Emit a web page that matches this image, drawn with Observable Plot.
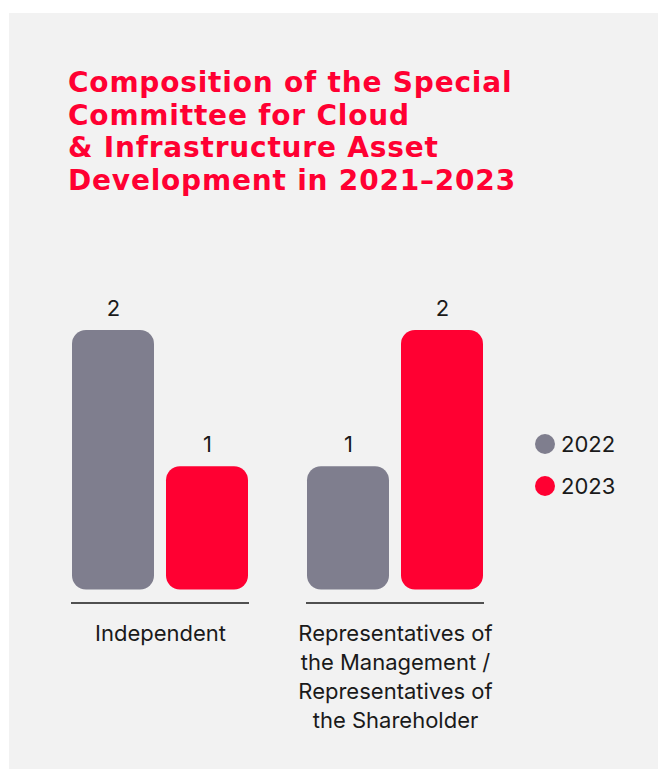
<!DOCTYPE html>
<html>
<head>
<meta charset="utf-8">
<script src="https://cdn.jsdelivr.net/npm/d3@7"></script>
<script src="https://cdn.jsdelivr.net/npm/@observablehq/plot@0.6"></script>
<style>
  html, body { margin: 0; padding: 0; background: #ffffff; }
  body { width: 658px; height: 769px; position: relative; overflow: hidden; font-family: Inter, "Noto Sans", sans-serif; }
  #panel { position: absolute; left: 9px; top: 13px; width: 649px; height: 756px; background: #f2f2f2; }
  #title { position: absolute; left: 68px; top: 67px; margin: 0; color: #ff0032; font-family: "DejaVu Sans", sans-serif; font-weight: bold; font-size: 28px; line-height: 32.5px; letter-spacing: 0.8px; }
  #chart { position: absolute; left: 0; top: 0; }
  .legend { position: absolute; left: 535px; display: flex; align-items: center; font-size: 22px; color: #1a1a1a; }
  .legend .dot { width: 20px; height: 20px; border-radius: 50%; margin-right: 6px; }
</style>
</head>
<body>
<div id="panel"></div>
<h1 id="title">Composition of the Special<br>Committee for Cloud<br>&amp; Infrastructure Asset<br>Development in 2021–2023</h1>
<div id="chart"></div>
<div id="legend"></div>
<script>
const categories = ["Independent", "Representatives of the Management / Representatives of the Shareholder"];
const categoryLabels = ["Independent", "Representatives of\nthe Management /\nRepresentatives of\nthe Shareholder"];
const years = ["2022", "2023"];
const values2022 = [2, 1];
const values2023 = [1, 2];
const colors = ["#7f7e8e", "#ff0032"];

const data = [];
categories.forEach((c, i) => {
  data.push({category: c, year: years[0], value: values2022[i]});
  data.push({category: c, year: years[1], value: values2023[i]});
});
const labelData = categories.map((c, i) => ({category: c, label: categoryLabels[i]}));

const chart = Plot.plot({
  width: 658,
  height: 769,
  marginLeft: 71,
  marginRight: 173.5,
  marginTop: 330,
  marginBottom: 166.5,
  style: {background: "transparent", fontFamily: "Inter, 'Noto Sans', sans-serif", fontSize: "22px", color: "#1a1a1a"},
  fx: {domain: categories, paddingInner: 0.244, paddingOuter: 0, axis: null},
  x: {domain: years, paddingInner: 0.126, paddingOuter: 0, axis: null},
  y: {domain: [0, 2], axis: null},
  color: {domain: years, range: colors},
  marks: [
    Plot.barY(data, {fx: "category", x: "year", y: "value", fill: "year", rx: 14, insetBottom: 13}),
    Plot.text(data, {fx: "category", x: "year", y: "value", text: d => String(d.value), dy: -22, fontSize: 22, fill: "#1a1a1a"}),
    Plot.ruleY([0], {stroke: "#1a1a1a", strokeWidth: 1.5}),
    Plot.text(labelData, {fx: "category", text: "label", frameAnchor: "bottom", lineAnchor: "top", dy: 17, lineHeight: 1.32, fontSize: 22, fill: "#1a1a1a"})
  ]
});
document.getElementById("chart").appendChild(chart);

const legend = document.getElementById("legend");
years.forEach((y, i) => {
  const item = document.createElement("div");
  item.className = "legend";
  item.style.top = (431 + i * 42) + "px";
  const dot = document.createElement("span");
  dot.className = "dot";
  dot.style.background = colors[i];
  const label = document.createElement("span");
  label.textContent = y;
  item.appendChild(dot);
  item.appendChild(label);
  legend.appendChild(item);
});
</script>
</body>
</html>
